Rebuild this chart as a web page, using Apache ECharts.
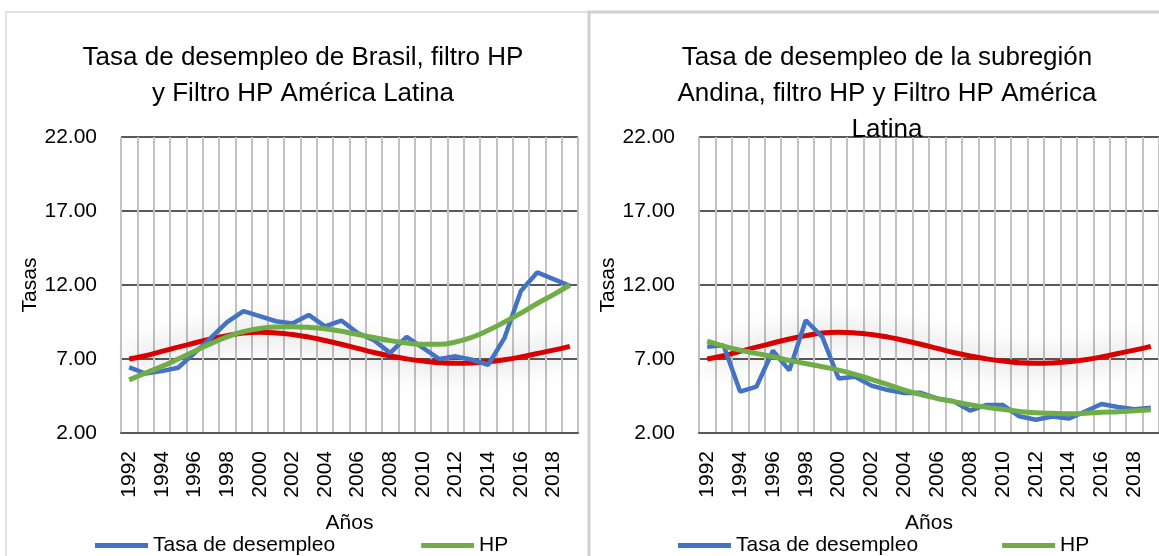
<!DOCTYPE html>
<html>
<head>
<meta charset="utf-8">
<title>Tasa de desempleo, filtro HP</title>
<script src="https://cdn.jsdelivr.net/npm/echarts@6/dist/echarts.min.js"></script>
<style>
  html, body { margin: 0; padding: 0; background: #fff; }
  #chart { width: 1159px; height: 556px; }
</style>
</head>
<body>
<div id="chart"></div>
<script>
// años y series
const years = ["1992", "1993", "1994", "1995", "1996", "1997", "1998", "1999", "2000", "2001",
  "2002", "2003", "2004", "2005", "2006", "2007", "2008", "2009", "2010", "2011",
  "2012", "2013", "2014", "2015", "2016", "2017", "2018", "2019"];

const brasilTasa = [6.43, 6.02, 6.18, 6.41, 7.4, 8.43, 9.49, 10.23, 9.9, 9.55,
  9.4, 9.98, 9.21, 9.6, 8.76, 8.27, 7.41, 8.49, 7.75, 7.0,
  7.18, 6.95, 6.61, 8.43, 11.6, 12.85, 12.4, 11.95];
const brasilHP = [5.59, 6.05, 6.5, 7.0, 7.52, 8.04, 8.49, 8.85, 9.06, 9.17,
  9.18, 9.14, 9.04, 8.87, 8.65, 8.45, 8.24, 8.08, 7.99, 7.99,
  8.15, 8.47, 8.94, 9.5, 10.1, 10.75, 11.35, 12.0];

const andinaTasa = [7.82, 7.92, 4.8, 5.14, 7.56, 6.23, 9.62, 8.5, 5.68, 5.8,
  5.2, 4.9, 4.7, 4.72, 4.32, 4.15, 3.51, 3.9, 3.89, 3.13,
  2.9, 3.12, 2.97, 3.45, 3.96, 3.76, 3.6, 3.7];
const andinaHP = [8.2, 7.87, 7.6, 7.38, 7.15, 6.9, 6.7, 6.48, 6.25, 5.96,
  5.62, 5.27, 4.9, 4.59, 4.34, 4.12, 3.91, 3.74, 3.6, 3.46,
  3.37, 3.33, 3.3, 3.33, 3.4, 3.44, 3.51, 3.57];

const latamHP = [7.0, 7.22, 7.52, 7.8, 8.08, 8.35, 8.58, 8.75, 8.8, 8.76,
  8.65, 8.48, 8.25, 8.0, 7.72, 7.44, 7.2, 7.01, 6.86, 6.75,
  6.71, 6.73, 6.81, 6.95, 7.14, 7.37, 7.6, 7.85];

const titles = [
  "Tasa de desempleo de Brasil, filtro HP\ny Filtro HP América Latina",
  "Tasa de desempleo de la subregión\nAndina, filtro HP y Filtro HP América\nLatina"
];

const FONT = "Liberation Sans, Arial, sans-serif";
const BLUE = "#4472c4";
const GREEN = "#70ad47";
const RED = "#d90000";

const chart = echarts.init(document.getElementById("chart"));

function xAxisFor(gridIndex) {
  return {
    type: "category",
    gridIndex,
    data: years,
    boundaryGap: true,
    name: "Años",
    nameLocation: "middle",
    nameGap: 80,
    nameTextStyle: { fontFamily: FONT, fontSize: 21, color: "#000" },
    axisTick: { show: false },
    axisLine: { lineStyle: { color: "#595959", width: 2 } },
    axisLabel: {
      interval: 1,
      rotate: 90,
      margin: 18,
      fontFamily: FONT,
      fontSize: 21,
      color: "#000"
    },
    splitLine: { show: true, interval: 0, lineStyle: { color: "#c3c3c3", width: 2 } }
  };
}

function yAxisFor(gridIndex, nameGap) {
  return {
    type: "value",
    gridIndex,
    min: 2,
    max: 22,
    interval: 5,
    name: "Tasas",
    nameLocation: "middle",
    nameRotate: 90,
    nameGap,
    nameTextStyle: { fontFamily: FONT, fontSize: 21, color: "#000" },
    axisLine: { show: false },
    axisTick: { show: false },
    axisLabel: {
      margin: 24,
      fontFamily: FONT,
      fontSize: 21,
      color: "#000",
      formatter: (v) => v.toFixed(2)
    },
    splitLine: { lineStyle: { color: "#595959", width: 2 } }
  };
}

function lineSeries(name, data, color, idx, extra) {
  return Object.assign({
    name,
    type: "line",
    xAxisIndex: idx,
    yAxisIndex: idx,
    data,
    symbol: "none",
    lineStyle: { color, width: 4.5 },
    itemStyle: { color }
  }, extra || {});
}

const redStyle = {
  smooth: true,
  lineStyle: { color: RED, width: 5, shadowColor: "rgba(0,0,0,0.4)", shadowBlur: 28 }
};
const greenStyle = {
  smooth: true,
  lineStyle: { color: GREEN, width: 5 }
};

chart.setOption({
  animation: false,
  title: [
    {
      text: titles[0], left: 298, top: 35, textAlign: "center",
      textStyle: { fontFamily: FONT, fontSize: 26, fontWeight: "normal", color: "#000", lineHeight: 36 }
    },
    {
      text: titles[1], left: 882, top: 35, textAlign: "center",
      textStyle: { fontFamily: FONT, fontSize: 26, fontWeight: "normal", color: "#000", lineHeight: 36 }
    }
  ],
  legend: [
    {
      data: ["Tasa de desempleo", "HP"],
      left: 90, top: 530,
      icon: "rect", itemWidth: 53, itemHeight: 5, itemGap: 86,
      textStyle: { fontFamily: FONT, fontSize: 21, color: "#000" },
      selectedMode: false
    },
    {
      data: ["Tasa de desempleo", "HP"],
      left: 673, top: 530,
      icon: "rect", itemWidth: 53, itemHeight: 5, itemGap: 84,
      textStyle: { fontFamily: FONT, fontSize: 21, color: "#000" },
      selectedMode: false
    }
  ],
  graphic: [
    { type: "rect", shape: { x: 6, y: 12, width: 583, height: 560 }, style: { fill: null, stroke: "#d9d9d9", lineWidth: 1.5 }, z: -1 },
    { type: "rect", shape: { x: 589, y: 12, width: 600, height: 560 }, style: { fill: null, stroke: "#d0d0d0", lineWidth: 3 }, z: -1 }
  ],
  grid: [
    { left: 121, right: 581, top: 137, bottom: 123 },
    { left: 699, width: 462, top: 137, bottom: 123 }
  ],
  xAxis: [xAxisFor(0), xAxisFor(1)],
  yAxis: [yAxisFor(0, 80), yAxisFor(1, 74)],
  series: [
    lineSeries("Filtro HP América Latina", latamHP, RED, 0, redStyle),
    lineSeries("Tasa de desempleo", brasilTasa, BLUE, 0),
    lineSeries("HP", brasilHP, GREEN, 0, greenStyle),
    lineSeries("Filtro HP América Latina", latamHP, RED, 1, redStyle),
    lineSeries("Tasa de desempleo", andinaTasa, BLUE, 1),
    lineSeries("HP", andinaHP, GREEN, 1, greenStyle)
  ]
});

window.addEventListener("resize", () => chart.resize());
</script>
</body>
</html>
